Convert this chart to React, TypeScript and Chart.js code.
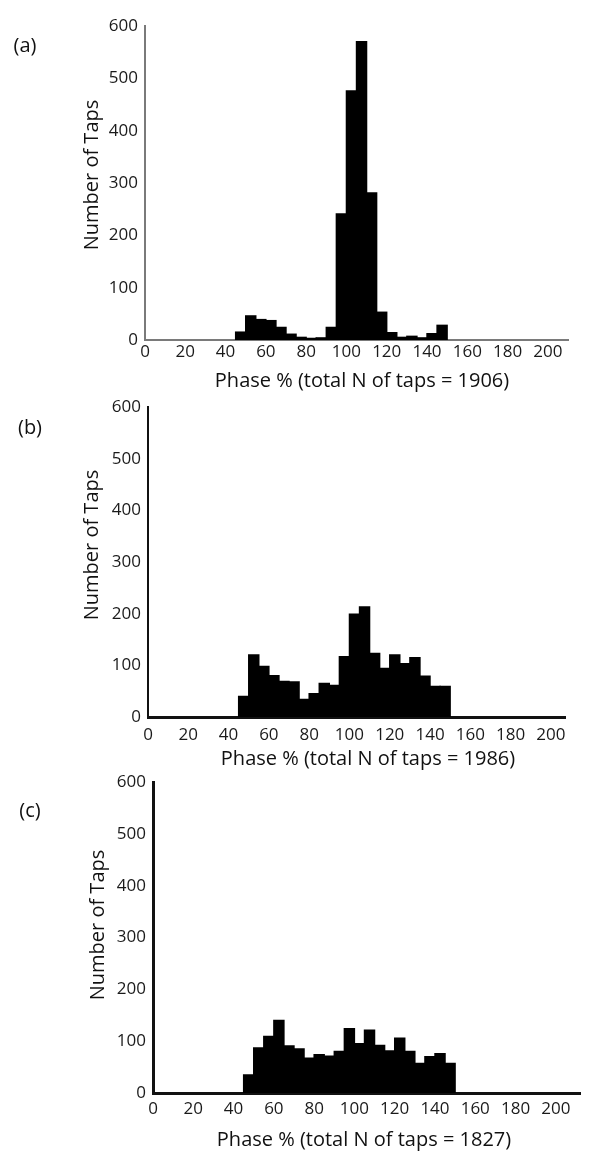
import React, { useEffect, useRef } from "react";
import Chart from "chart.js/auto";

// ---- data ----
const BIN_STARTS = [45, 50, 55, 60, 65, 70, 75, 80, 85, 90, 95, 100, 105, 110, 115, 120, 125, 130, 135, 140, 145];
const BIN_WIDTH = 5;
const COUNTS_A = [15, 46, 39, 37, 24, 11, 5, 3, 4, 24, 241, 476, 570, 281, 53, 14, 5, 7, 4, 12, 28];
const COUNTS_B = [40, 120, 98, 80, 69, 68, 34, 45, 65, 61, 117, 199, 213, 123, 94, 120, 103, 115, 79, 59, 59];
const COUNTS_C = [35, 87, 109, 140, 91, 85, 67, 74, 71, 80, 124, 95, 121, 92, 81, 106, 80, 57, 70, 76, 57];
const X_TICKS = [0, 20, 40, 60, 80, 100, 120, 140, 160, 180, 200];
const Y_TICKS = [0, 100, 200, 300, 400, 500, 600];
const PANEL_LABELS = ["(a)", "(b)", "(c)"];
const X_TITLES = [
  "Phase % (total N of taps = 1906)",
  "Phase % (total N of taps = 1986)",
  "Phase % (total N of taps = 1827)",
];
const Y_TITLE = "Number of Taps";

const FONT = "'Open Sans', 'Liberation Sans', sans-serif";

type PanelCfg = {
  counts: number[];
  label: string;
  xTitle: string;
  top: number;
  height: number;
  area: { left: number; right: number; top: number; bottom: number };
  xMax: number;
  axisColor: string;
  xBorder: number;
  yBorder: number;
  xTickPad: number;
  yTickPad: number;
  labelPos: [number, number];
  yTitlePos: [number, number];
  xTitlePos: [number, number];
};

const PANELS: PanelCfg[] = [
  {
    counts: COUNTS_A, label: PANEL_LABELS[0], xTitle: X_TITLES[0],
    top: 0, height: 395,
    area: { left: 145, right: 568, top: 26, bottom: 340 },
    xMax: 210, axisColor: "#7a7a7a", xBorder: 2, yBorder: 2,
    xTickPad: 2, yTickPad: 7,
    labelPos: [25, 46], yTitlePos: [92, 175], xTitlePos: [362, 381],
  },
  {
    counts: COUNTS_B, label: PANEL_LABELS[1], xTitle: X_TITLES[1],
    top: 390, height: 385,
    area: { left: 148, right: 565, top: 405, bottom: 717 },
    xMax: 207, axisColor: "#111", xBorder: 3, yBorder: 2,
    xTickPad: 8, yTickPad: 7,
    labelPos: [30, 428], yTitlePos: [92, 545], xTitlePos: [368, 759],
  },
  {
    counts: COUNTS_C, label: PANEL_LABELS[2], xTitle: X_TITLES[2],
    top: 765, height: 401,
    area: { left: 153, right: 580, top: 781, bottom: 1093 },
    xMax: 212, axisColor: "#111", xBorder: 3, yBorder: 3,
    xTickPad: 6, yTickPad: 7,
    labelPos: [30, 811], yTitlePos: [98, 925], xTitlePos: [364, 1140],
  },
];

function makeTextPlugin(cfg: PanelCfg) {
  return {
    id: "panelText",
    afterDraw(chart: any) {
      const ctx = chart.ctx as CanvasRenderingContext2D;
      ctx.save();
      ctx.fillStyle = "#111";
      ctx.font = `20px ${FONT}`;
      ctx.textAlign = "center";
      ctx.textBaseline = "middle";
      ctx.fillText(cfg.label, cfg.labelPos[0], cfg.labelPos[1] - cfg.top);
      ctx.fillText(cfg.xTitle, cfg.xTitlePos[0], cfg.xTitlePos[1] - cfg.top);
      ctx.translate(cfg.yTitlePos[0], cfg.yTitlePos[1] - cfg.top);
      ctx.rotate(-Math.PI / 2);
      ctx.fillText(Y_TITLE, 0, 0);
      ctx.restore();
    },
  };
}

function Panel({ cfg }: { cfg: PanelCfg }) {
  const ref = useRef<HTMLCanvasElement | null>(null);
  useEffect(() => {
    if (!ref.current) return;
    const a = cfg.area;
    const tickFont = { family: FONT, size: 17 };
    const chart = new Chart(ref.current, {
      type: "bar",
      data: {
        datasets: [
          {
            data: cfg.counts.map((v, i) => ({ x: BIN_STARTS[i] + BIN_WIDTH / 2, y: v })),
            backgroundColor: "#000",
            borderWidth: 0,
            inflateAmount: 0.7,
            barPercentage: 1,
            categoryPercentage: 1,
          } as any,
        ],
      },
      options: {
        responsive: false,
        animation: false,
        devicePixelRatio: 1,
        layout: { padding: { left: 0, right: 600 - a.right, top: a.top - cfg.top, bottom: 0 } },
        plugins: { legend: { display: false }, tooltip: { enabled: false } },
        scales: {
          x: {
            type: "linear",
            min: 0,
            max: cfg.xMax,
            offset: false,
            grid: { display: false, drawTicks: false, offset: false },
            border: { display: true, color: cfg.axisColor, width: cfg.xBorder },
            ticks: { autoSkip: false, maxRotation: 0, padding: cfg.xTickPad, color: "#1a1a1a", font: tickFont },
            afterBuildTicks: (s: any) => {
              s.ticks = X_TICKS.map((v) => ({ value: v }));
            },
            afterFit: (s: any) => {
              s.height = cfg.height - (a.bottom - cfg.top);
            },
          },
          y: {
            type: "linear",
            min: 0,
            max: 600,
            grid: { display: false, drawTicks: false },
            border: { display: true, color: cfg.axisColor, width: cfg.yBorder },
            ticks: { autoSkip: false, padding: cfg.yTickPad, color: "#1a1a1a", font: tickFont },
            afterBuildTicks: (s: any) => {
              s.ticks = Y_TICKS.map((v) => ({ value: v }));
            },
            afterFit: (s: any) => {
              s.width = a.left;
            },
          },
        },
      } as any,
      plugins: [makeTextPlugin(cfg)],
    });
    return () => chart.destroy();
  }, [cfg]);
  return (
    <canvas
      ref={ref}
      width={600}
      height={cfg.height}
      style={{ position: "absolute", left: 0, top: cfg.top, width: 600, height: cfg.height }}
    />
  );
}

export default function App() {
  return (
    <div style={{ position: "absolute", left: 0, top: 0, width: 600, height: 1166, background: "#fff" }}>
      {PANELS.map((p) => (
        <Panel key={p.label} cfg={p} />
      ))}
    </div>
  );
}
